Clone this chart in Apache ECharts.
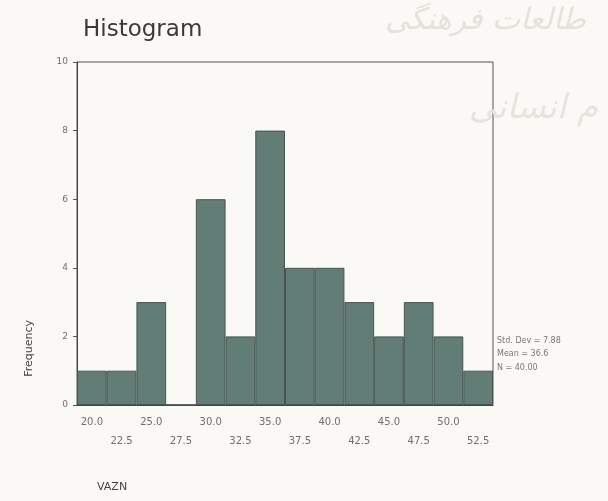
<!DOCTYPE html>
<html>
<head>
<meta charset="utf-8">
<script src="https://cdn.jsdelivr.net/npm/echarts@6/dist/echarts.min.js"></script>
<style>
  html, body { margin: 0; padding: 0; background: #fbf9f6; }
  #main { width: 608px; height: 501px; }
</style>
</head>
<body>
<div id="main"></div>
<script>
// bin centers of VAZN (bin width 2.5)
var binLabels = ['20.0', '22.5', '25.0', '27.5', '30.0', '32.5', '35.0',
                 '37.5', '40.0', '42.5', '45.0', '47.5', '50.0', '52.5'];
// frequency per bin
var counts = [1, 1, 3, 0, 6, 2, 8, 4, 4, 3, 2, 3, 2, 1];
var yTicks = [0, 2, 4, 6, 8, 10];
var statLines = ['Std. Dev = 7.88', 'Mean = 36.6', 'N = 40.00'];

var myChart = echarts.init(document.getElementById('main'));

var option = {
    backgroundColor: '#fbf9f6',
    animation: false,
    title: {
        text: 'Histogram',
        left: 78,
        top: 14,
        textStyle: { fontFamily: 'DejaVu Sans', fontSize: 23, fontWeight: 'normal', color: '#3a3a3a' }
    },
    grid: {
        left: 77, right: 115, top: 62, bottom: 96,
        show: true, borderColor: '#555', borderWidth: 1
    },
    xAxis: {
        type: 'category',
        data: binLabels,
        axisLine: { lineStyle: { color: '#444' } },
        axisTick: { alignWithLabel: true, length: 4, lineStyle: { color: '#555' } },
        axisLabel: {
            interval: 0,
            margin: 8,
            color: '#6f6f6f',
            fontFamily: 'DejaVu Sans',
            fontSize: 10,
            lineHeight: 19,
            formatter: function (v, i) {
                return i % 2 ? '\n' + v : v;
            }
        }
    },
    yAxis: {
        type: 'value',
        min: yTicks[0],
        max: yTicks[yTicks.length - 1],
        interval: 2,
        splitLine: { show: false },
        axisLine: { show: true, lineStyle: { color: '#444' } },
        axisTick: { show: true, length: 4, lineStyle: { color: '#555' } },
        axisLabel: { color: '#6f6f6f', fontFamily: 'DejaVu Sans', fontSize: 9, margin: 9 }
    },
    series: [{
        type: 'bar',
        data: counts,
        barCategoryGap: 0,
        itemStyle: { color: '#627c76', borderColor: '#46554f', borderWidth: 1 }
    }],
    graphic: [
        {
            type: 'text', left: 24, top: 320, rotation: Math.PI / 2,
            style: { text: 'Frequency', fill: '#444', font: '11px "DejaVu Sans"' }
        },
        {
            type: 'text', left: 97, top: 482,
            style: { text: 'VAZN', fill: '#444', font: '11px "DejaVu Sans"' }
        },
        {
            type: 'text', left: 497, top: 334,
            style: { text: statLines.join('\n'), fill: '#777', font: '8px "DejaVu Sans"', lineHeight: 13.5 }
        },
        {
            type: 'text', right: 22, top: 6,
            style: { text: 'طالعات فرهنگی', fill: '#e6e1dc', font: 'italic 30px "DejaVu Sans"' }
        },
        {
            type: 'text', right: 10, top: 92,
            style: { text: 'م انسانی', fill: '#e8e3de', font: 'italic 34px "DejaVu Sans"' }
        }
    ]
};

myChart.setOption(option);
</script>
</body>
</html>
